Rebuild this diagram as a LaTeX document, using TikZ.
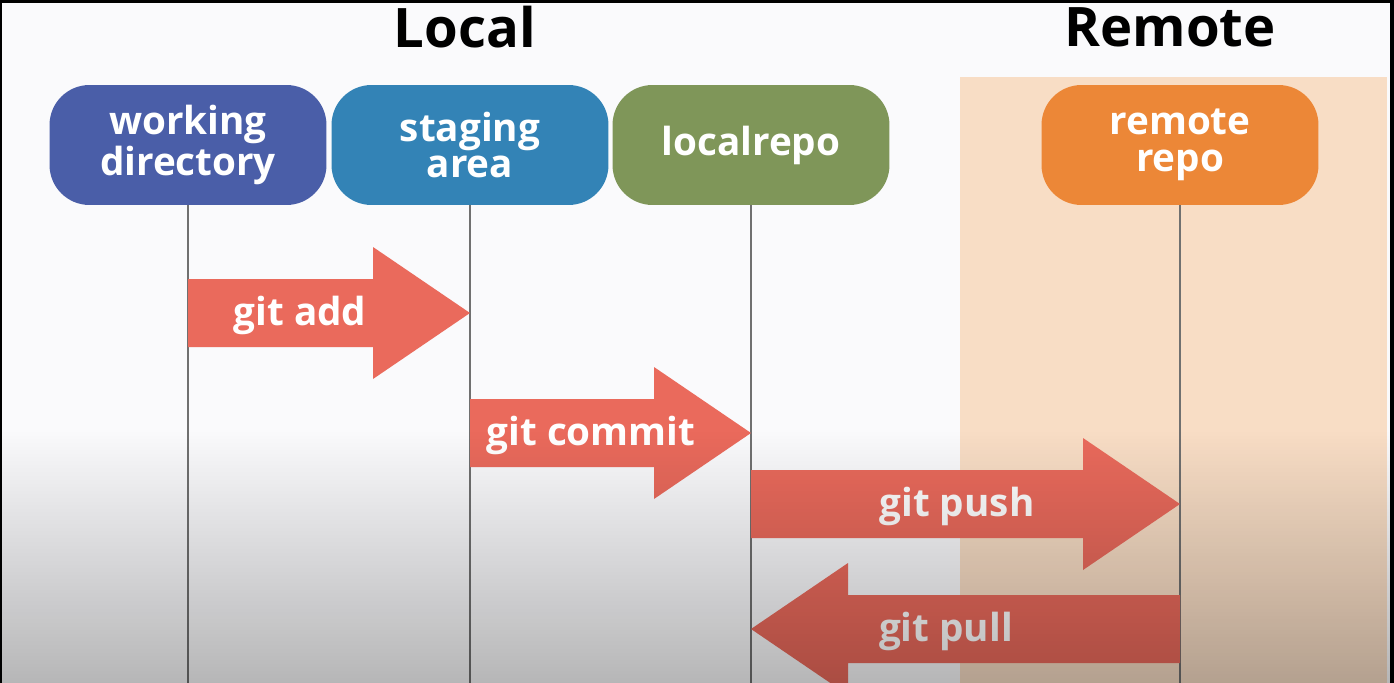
\documentclass[tikz,border=0pt]{standalone}
\usepackage{fontspec}
\setmainfont{Open Sans}
\usetikzlibrary{calc,fadings}

\definecolor{wdblue}{HTML}{4A5EA8}
\definecolor{sablue}{HTML}{3383B6}
\definecolor{lrgreen}{HTML}{7F9659}
\definecolor{rrorange}{HTML}{EC8737}
\definecolor{remotebg}{HTML}{F8DDC5}
\definecolor{gitred}{HTML}{EA6A5C}
\definecolor{pagebg}{HTML}{FAFAFC}
\definecolor{lifeline}{HTML}{707070}

\begin{document}
\begin{tikzpicture}[x=0.02cm, y=-0.02cm,
    repo/.style={rounded corners=0.8cm, minimum width=5.54cm, minimum height=2.4cm,
      inner sep=0pt, align=center, text=white,
      font=\fontsize{22}{21}\selectfont\bfseries},
    cmd/.style={text=white, inner sep=0pt, font=\fontsize{22}{24}\selectfont\bfseries},
    side/.style={font=\fontsize{31}{34}\selectfont\bfseries},
    life/.style={draw=lifeline, line width=1.1pt}]
  \useasboundingbox (0,0) rectangle (1394,683);
  % frame and background
  \fill[black] (0,0) rectangle (1394,683);
  \fill[pagebg] (2,3) rectangle (1390,683);
  \fill[remotebg] (960,77) rectangle (1387,683);

  \node[side] (local)  at (465,27)  {Local};
  \node[side] (remote) at (1170,27) {Remote};

  \node[repo, fill=wdblue]   (wd) at (188,145)  {working\\directory};
  \node[repo, fill=sablue]   (sa) at (470,145)  {staging\\area};
  \node[repo, fill=lrgreen]  (lr) at (751,145)  {localrepo};
  \node[repo, fill=rrorange] (rr) at (1180,145) {remote\\repo};

  \foreach \u in {wd,sa,lr,rr}
  {  \coordinate (\u-end) at (\u.south |- 0,683);
     \draw[life] (\u.south) -- (\u-end);
  }

  \def\steps {wd/sa/313/1/git add/300, sa/lr/433/1/git commit/591,
    lr/rr/504/1/git push/957, rr/lr/629/-1/git pull/946}  % list elements
  \foreach \u/\v/\yy/\s/\lab/\tx in \steps
  {  \pgfmathsetmacro\hx{-97*\s}
     \fill[gitred] (\u |- 0,\yy-34) -- ($(\v |- 0,\yy-34)+(\hx,0)$)
       -- ($(\v |- 0,\yy-66)+(\hx,0)$) -- (\v |- 0,\yy)
       -- ($(\v |- 0,\yy+66)+(\hx,0)$) -- ($(\v |- 0,\yy+34)+(\hx,0)$)
       -- (\u |- 0,\yy+34) -- cycle;
     \node[cmd] (\u-\v) at (\tx,\yy+2) {\lab};
  }

  % darker band at the bottom (y axis is flipped, so the fading is too)
  \fill[black, opacity=0.28, path fading=north] (0,430) rectangle (1394,690);
\end{tikzpicture}
\end{document}
